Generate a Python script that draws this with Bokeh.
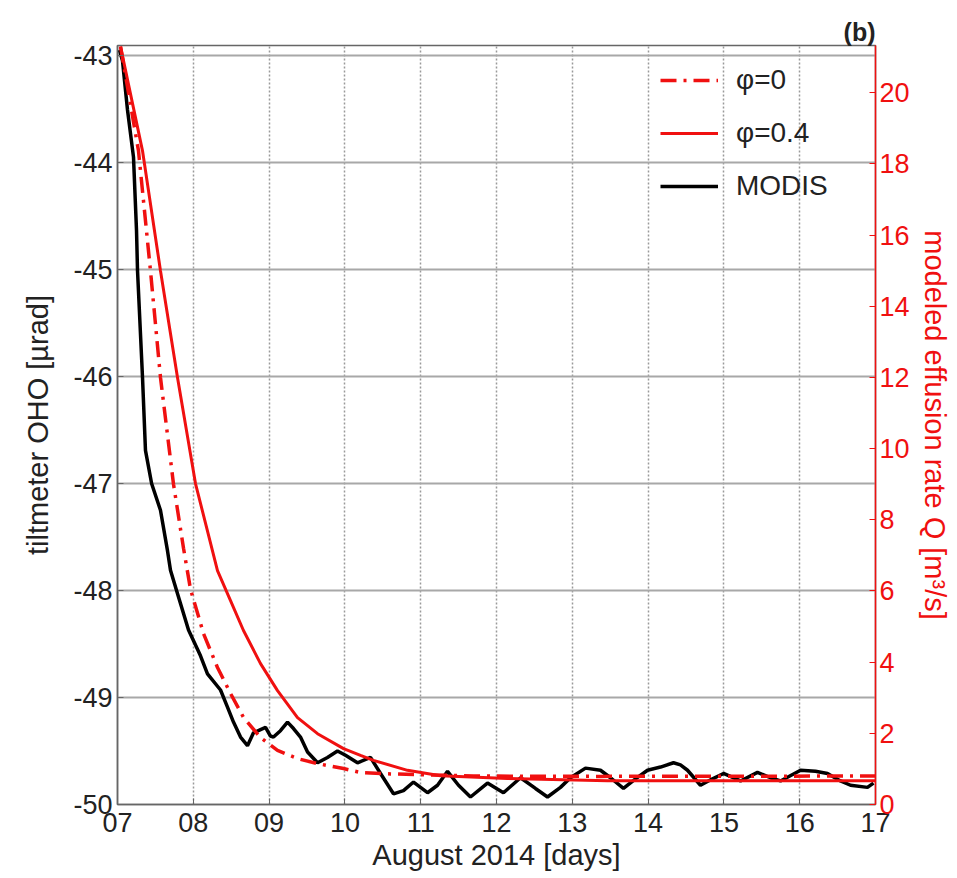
from bokeh.plotting import figure
from bokeh.models import Range1d, LinearAxis, FixedTicker, Legend, LegendItem
from bokeh.embed import file_html
from bokeh.resources import INLINE

# ---- data ----
days_modis = [7.026, 7.066, 7.132, 7.211, 7.251, 7.264, 7.330, 7.369, 7.450, 7.567,
              7.660, 7.699, 7.792, 7.937, 8.003, 8.095, 8.187, 8.359, 8.451, 8.530, 8.623, 8.715, 8.794,
              8.887, 8.953, 9.018, 9.058, 9.150, 9.243, 9.322, 9.414, 9.507, 9.639, 9.770, 9.902,
              10.008, 10.166, 10.338, 10.470, 10.641, 10.773, 10.905, 11.090, 11.222, 11.354,
              11.499, 11.657, 11.881, 12.092, 12.317, 12.514, 12.673, 12.844, 12.976, 13.174,
              13.372, 13.504, 13.675, 13.834, 13.992, 14.164, 14.335, 14.427, 14.520, 14.691,
              14.850, 14.995, 15.219, 15.443, 15.615, 15.747, 16.011, 16.208, 16.367, 16.538,
              16.670, 16.894, 16.973]
tilt_modis = [-42.95, -43.05, -43.51, -43.95, -44.64, -45.01, -46.01, -46.69, -47.00, -47.25,
              -47.63, -47.81, -48.03, -48.37, -48.47, -48.61, -48.78, -48.93, -49.09,
              -49.23, -49.37, -49.45, -49.33, -49.30, -49.28, -49.36, -49.37, -49.31, -49.23,
              -49.29, -49.37, -49.51, -49.61, -49.56, -49.50, -49.54, -49.61, -49.56, -49.71,
              -49.90, -49.87, -49.79, -49.89, -49.82, -49.69, -49.82, -49.93, -49.80, -49.89,
              -49.75, -49.85, -49.93, -49.84, -49.75, -49.66, -49.68, -49.75, -49.85, -49.76,
              -49.68, -49.65, -49.61, -49.63, -49.68, -49.82, -49.76, -49.71, -49.78, -49.70,
              -49.75, -49.78, -49.68, -49.69, -49.71, -49.78, -49.82, -49.84, -49.80]

days_phi0 = [7.04, 7.277, 7.435, 7.567, 7.739, 7.871, 7.963, 8.135, 8.319, 8.491, 8.662,
             8.887, 9.111, 9.375, 9.639, 9.982, 10.206, 10.602, 11.697, 13.37, 17.0]
q_phi0 = [21.3, 18.37, 15.00, 12.00, 9.00, 7.20, 6.05, 4.80, 3.85, 3.12, 2.45,
          1.88, 1.52, 1.29, 1.15, 1.01, 0.90, 0.86, 0.80, 0.79, 0.80]

days_phi04 = [7.04, 7.330, 7.567, 7.792, 8.029, 8.319, 8.491, 8.662, 8.887, 9.111, 9.375,
              9.639, 9.982, 10.206, 10.377, 10.826, 11.261, 12.145, 13.464, 17.0]
q_phi04 = [21.3, 18.37, 15.00, 11.99, 9.02, 6.57, 5.73, 4.89, 3.96, 3.20, 2.44,
           1.99, 1.57, 1.38, 1.24, 0.96, 0.81, 0.73, 0.67, 0.67]

x_ticks = [7, 8, 9, 10, 11, 12, 13, 14, 15, 16, 17]
x_tick_labels = ["07", "08", "09", "10", "11", "12", "13", "14", "15", "16", "17"]
tilt_ticks = [-50, -49, -48, -47, -46, -45, -44, -43]
q_ticks = [0, 2, 4, 6, 8, 10, 12, 14, 16, 18, 20]

RED = "#f01010"
FONT = "Liberation Sans"
DARK = "#222222"

p = figure(width=957, height=878, output_backend="svg", toolbar_location=None,
           x_range=Range1d(7, 17), y_range=Range1d(-50, -42.907),
           min_border_left=117, min_border_right=82, min_border_top=45, min_border_bottom=74)
p.extra_y_ranges = {"q": Range1d(0, 21.33)}
p.background_fill_color = "white"
p.outline_line_color = "#666666"
p.outline_line_width = 1.5

p.title.text = "(b)"
p.title.align = "right"
p.title.text_font = FONT
p.title.text_font_size = "25px"
p.title.text_font_style = "bold"
p.title.text_color = DARK
p.title.standoff = 0

# axes
p.xaxis.ticker = FixedTicker(ticks=x_ticks)
p.xaxis.major_label_overrides = {t: s for t, s in zip(x_ticks, x_tick_labels)}
p.yaxis.ticker = FixedTicker(ticks=tilt_ticks)
p.yaxis.major_label_overrides = {t: str(t) for t in tilt_ticks}
for ax in (p.xaxis[0], p.yaxis[0]):
    ax.major_label_text_font = FONT
    ax.major_label_text_font_size = "27px"
    ax.major_label_text_color = DARK
    ax.axis_label_text_font = FONT
    ax.axis_label_text_font_size = "29px"
    ax.axis_label_text_font_style = "normal"
    ax.axis_label_text_color = DARK
    ax.axis_line_color = "#666666"
    ax.axis_line_width = 1.5
    ax.major_tick_in = 6
    ax.major_tick_out = 0
    ax.major_tick_line_color = "#666666"
    ax.minor_tick_line_color = None
    ax.major_label_standoff = 5
p.xaxis.major_label_standoff = 8
p.xaxis.axis_label = "August 2014 [days]"
p.xaxis.axis_label_standoff = 4
p.yaxis.axis_label = "tiltmeter OHO [µrad]"
p.yaxis.axis_label_standoff = 16

raxis = LinearAxis(y_range_name="q", ticker=FixedTicker(ticks=q_ticks),
                   axis_label="modeled effusion rate Q [m³/s]")
raxis.major_label_text_font = FONT
raxis.major_label_text_font_size = "27px"
raxis.major_label_text_color = RED
raxis.axis_label_text_font = FONT
raxis.axis_label_text_font_size = "29px"
raxis.axis_label_text_font_style = "normal"
raxis.axis_label_text_color = RED
raxis.axis_line_color = RED
raxis.axis_line_width = 1.5
raxis.major_tick_line_color = RED
raxis.major_tick_in = 6
raxis.major_tick_out = 0
raxis.minor_tick_line_color = None
raxis.major_label_standoff = 4
raxis.axis_label_standoff = 6
p.add_layout(raxis, "right")

# grids
p.xgrid.grid_line_color = "#9a9a9a"
p.xgrid.grid_line_dash = "2 2"
p.xgrid.grid_line_width = 1.5
p.ygrid.grid_line_color = "#a8a8a8"
p.ygrid.grid_line_width = 2

# lines
r_modis = p.line(days_modis, tilt_modis, line_color="black", line_width=3.5)
r_phi0 = p.line(days_phi0, q_phi0, y_range_name="q", line_color=RED, line_width=3.5,
                line_dash="16 7 3 7")
r_phi04 = p.line(days_phi04, q_phi04, y_range_name="q", line_color=RED, line_width=3)

legend = Legend(items=[LegendItem(label="φ=0", renderers=[r_phi0]),
                       LegendItem(label="φ=0.4", renderers=[r_phi04]),
                       LegendItem(label="MODIS", renderers=[r_modis])],
                location=(543, 602))
legend.background_fill_alpha = 0
legend.border_line_alpha = 0
legend.label_text_font = FONT
legend.label_text_font_size = "28px"
legend.label_text_color = DARK
legend.glyph_width = 58
legend.glyph_height = 32
legend.label_height = 32
legend.spacing = 21
legend.padding = 0
legend.margin = 0
legend.label_standoff = 18
p.add_layout(legend, "center")

open("out.html", "w").write(file_html(p, INLINE))
